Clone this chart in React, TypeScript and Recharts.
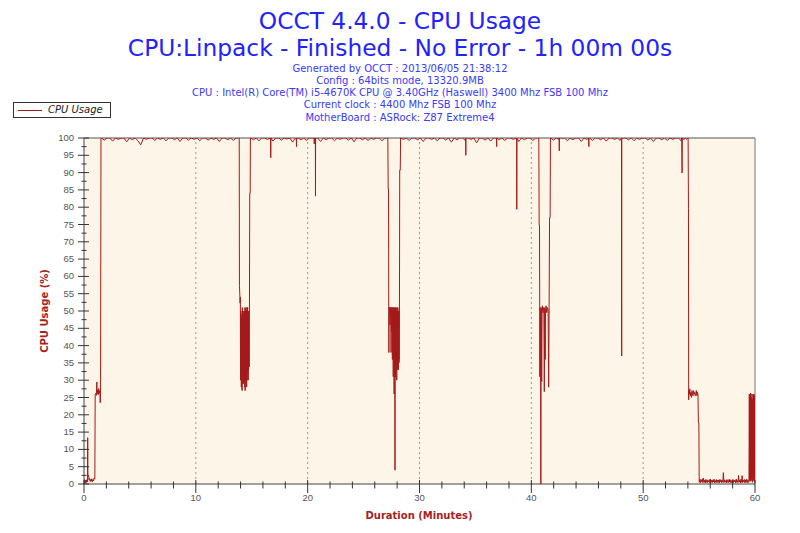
import { CartesianGrid, Line, LineChart, ReferenceLine, XAxis, YAxis } from "recharts";

type Sample = [number, number];
type Run = { from: number; to: number; values: number[] };

const titleLines = ["OCCT 4.4.0 - CPU Usage", "CPU:Linpack - Finished - No Error - 1h 00m 00s"];
const infoLines = [
  "Generated by OCCT : 2013/06/05 21:38:12",
  "Config : 64bits mode, 13320.9MB",
  "CPU : Intel(R) Core(TM) i5-4670K CPU @ 3.40GHz (Haswell) 3400 Mhz FSB 100 Mhz",
  "Current clock : 4400 Mhz FSB 100 Mhz",
  "MotherBoard : ASRock: Z87 Extreme4",
];
const seriesName = "CPU Usage";

const minuteTicks = [
  0, 2, 4, 6, 8, 10, 12, 14, 16, 18, 20, 22, 24, 26, 28, 30, 32, 34, 36, 38, 40, 42, 44, 46, 48, 50,
  52, 54, 56, 58, 60,
];
const minuteGrid = [10, 20, 30, 40, 50];
const usageTicks = [
  0, 2.5, 5, 7.5, 10, 12.5, 15, 17.5, 20, 22.5, 25, 27.5, 30, 32.5, 35, 37.5, 40, 42.5, 45, 47.5, 50,
  52.5, 55, 57.5, 60, 62.5, 65, 67.5, 70, 72.5, 75, 77.5, 80, 82.5, 85, 87.5, 90, 92.5, 95, 97.5, 100,
];

// idle start, then the first short 25% phase before Linpack kicks in
const warmup: Sample[] = [
  [0, 0.8], [0.04, 1.3], [0.08, 0.4], [0.12, 1.1], [0.16, 0.3], [0.2, 1.2], [0.24, 0.5], [0.28, 1.0],
  [0.31, 0.6], [0.33, 13.4], [0.35, 2.8], [0.4, 2.6], [0.45, 1.2], [0.5, 1.6], [0.55, 0.7], [0.6, 1.3],
  [0.65, 0.8], [0.7, 1.5], [0.75, 0.6], [0.8, 1.2], [0.85, 0.9], [0.9, 1.7], [0.97, 1.4], [1.0, 25.8],
  [1.05, 26.2], [1.1, 25.6], [1.15, 29.5], [1.17, 26], [1.22, 27.2], [1.27, 25.8], [1.32, 27.6],
  [1.37, 26.2], [1.42, 27], [1.45, 23.5], [1.48, 26.5], [1.52, 100],
];

// full-load stretches (values spread evenly between from and to)
const loadA: Run = {
  from: 1.56,
  to: 13.86,
  values: [
    100, 99.4, 100, 100, 99.1, 100, 99.6, 100, 100, 98.9, 100, 99.5, 100, 99.2, 98, 100, 99.6, 100, 100,
    99.3, 100, 99.6, 100, 99.2, 100, 100, 99.5, 100, 99, 100, 100, 99.4, 100, 99.6, 100, 99.2, 100, 100,
    99.4, 100, 99.6, 100, 99, 100, 100, 99.5, 100, 99.3, 100, 100,
  ],
};
const loadB: Run = {
  from: 14.9,
  to: 27.15,
  values: [
    100, 99.5, 100, 99.2, 100, 100, 99.6, 100, 99.1, 100, 100, 99.4, 100, 99.7, 100, 98.8, 100, 100,
    99.5, 100, 99.3, 100, 100, 99.6, 100, 99, 100, 99.5, 100, 100, 99.2, 100, 99.6, 100, 100, 99.4, 100,
    98.9, 100, 100, 99.5, 100, 99.3, 100, 99.6, 100, 100, 99.2, 100, 100,
  ],
};
const loadC: Run = {
  from: 28.32,
  to: 40.64,
  values: [
    100, 99.6, 100, 99.3, 100, 100, 99.5, 100, 99, 100, 100, 99.6, 100, 99.2, 100, 100, 99.4, 100, 98.8,
    100, 99.5, 100, 100, 99.3, 100, 99.6, 100, 98.6, 100, 100, 99.4, 100, 99.1, 100, 100, 99.5, 100,
    99.3, 100, 100, 99.6, 100, 99, 100, 99.5, 100, 100, 99.3, 100, 100,
  ],
};
const loadD: Run = {
  from: 41.74,
  to: 53.4,
  values: [
    100, 99.4, 100, 99.6, 100, 100, 99.2, 100, 99.5, 100, 100, 99, 100, 99.6, 100, 99.3, 100, 100, 99.5,
    100, 99.1, 100, 100, 99.6, 100, 99.3, 100, 100, 99.5, 100, 99.2, 100, 99.6, 100, 100, 99.4, 100, 99,
    100, 100, 99.5, 100, 99.3, 100, 99.6, 100, 100, 99.2,
  ],
};
const loadE: Run = { from: 53.52, to: 54.02, values: [100, 99.5, 100, 99.6, 100] };

// narrow dips during the full-load stretches
const spikes: Sample[] = [
  [16.69, 100], [16.7, 94.3], [16.71, 100],
  [18.99, 100], [19.0, 97.5], [19.01, 100],
  [20.58, 100], [20.59, 98.3], [20.6, 100],
  [20.69, 100], [20.7, 83.2], [20.71, 100],
  [34.13, 100], [34.14, 95], [34.15, 100],
  [36.89, 100], [36.9, 97.5], [36.91, 100],
  [38.69, 100], [38.7, 79.4], [38.71, 100],
  [42.49, 100], [42.5, 96.3], [42.51, 100],
  [45.13, 100], [45.14, 97.5], [45.15, 100],
  [48.06, 100], [48.07, 61], [48.08, 37], [48.09, 100],
  [53.44, 100], [53.46, 95.7], [53.48, 89.9], [53.5, 100],
];

// first large dip around 14 min
const dip1Edges: Sample[] = [
  [13.88, 100], [13.9, 57.3], [13.93, 55], [13.96, 52.3], [13.98, 54],
  [14.78, 33.8], [14.82, 84], [14.86, 84], [14.88, 100],
];
const dip1Burst: Run = {
  from: 14.0,
  to: 14.75,
  values: [
    30, 50, 31, 49, 28, 48, 30, 47, 27, 51, 29, 50, 35, 50, 30, 49, 29, 47, 32, 50, 31, 50, 28, 51,
    27, 49, 30, 50, 33, 51, 31, 48, 28, 50, 30, 51, 36, 51, 32, 49, 30, 49, 33, 50, 34,
  ],
};

// second dip around 27.5 min
const dip2Edges: Sample[] = [
  [27.17, 100], [27.2, 85.3], [27.23, 85.3], [27.26, 38], [27.28, 51],
  [28.2, 36], [28.23, 90.7], [28.28, 90.7], [28.31, 100],
];
const dip2Burst: Run = {
  from: 27.3,
  to: 28.16,
  values: [
    51, 50, 51, 46, 51, 50, 49, 51, 38, 51, 50, 44, 51, 50, 36, 51, 40, 50, 31, 51, 35, 50, 26, 51, 33,
    50, 4, 51, 31, 50, 35, 51, 34, 50, 30, 51, 33, 50, 36, 51, 34, 50, 33, 50, 35,
  ],
};

// third dip around 41 min
const dip3: Sample[] = [
  [40.67, 100], [40.7, 74.8], [40.73, 74.8], [40.75, 51], [40.76, 31], [40.78, 51], [40.82, 49.5],
  [40.85, 0], [40.88, 51], [40.93, 29.6], [40.96, 50], [40.99, 51.5], [41.03, 49.5], [41.08, 51],
  [41.12, 50], [41.16, 26.7], [41.2, 51], [41.24, 36], [41.27, 50], [41.32, 51.5], [41.38, 49.5],
  [41.44, 51], [41.5, 50.5], [41.55, 28], [41.59, 51], [41.63, 76.9], [41.68, 76.9], [41.71, 100],
];

// test stopped: 25% step, then idle, then a last burst
const stopEdges: Sample[] = [
  [54.05, 79.7], [54.07, 24.3], [54.1, 27],
  [54.94, 17.6], [54.98, 17.6], [55.01, 0.5],
  [60, 16.6],
];
const stepDown: Run = {
  from: 54.12,
  to: 54.9,
  values: [26, 27.5, 25.5, 26.5, 25, 27, 26, 25.5, 27, 26, 26.5, 25.5, 26, 27, 25.5, 26.5, 26],
};
const idleTail: Run = {
  from: 55.03,
  to: 59.42,
  values: [
    0.5, 1.4, 0.3, 1.2, 0.6, 1.5, 0.4, 1.7, 0.5, 1.1, 0.3, 1.3, 0.5, 1.2, 0.4, 1.0, 0.6, 1.3, 0.3, 1.4,
    0.5, 1.1, 0.4, 1.2, 0.6, 1.4, 0.3, 1.0, 0.5, 1.3, 0.4, 1.1, 0.5, 1.2, 0.3, 1.3, 0.6, 1.2, 0.4, 1.1,
    0.5, 3.3, 0.4, 1.2, 0.6, 1.0, 0.3, 1.3, 0.5, 1.1, 0.4, 1.4, 0.6, 1.2, 0.3, 1.0, 0.5, 1.3, 0.4, 1.2,
    0.6, 1.1, 0.3, 1.4, 0.5, 1.0, 0.4, 2.5, 0.6, 1.2, 0.3, 1.3, 0.5, 2.4, 0.4, 1.1, 0.6, 1.3, 0.3, 1.2,
    0.5, 1.4, 0.4, 1.1, 0.5,
  ],
};
const finalBurst: Run = {
  from: 59.46,
  to: 59.98,
  values: [0.5, 26, 1, 25.5, 0.8, 26.3, 2, 25, 1, 26, 0.5, 24.5, 3, 25.8, 1, 26, 0.6, 25.2],
};

const spread = (run: Run): Sample[] =>
  run.values.map((v, i) => [run.from + (i * (run.to - run.from)) / (run.values.length - 1), v]);

const usage = [
  ...warmup,
  ...spread(loadA),
  ...dip1Edges,
  ...spread(dip1Burst),
  ...spread(loadB),
  ...dip2Edges,
  ...spread(dip2Burst),
  ...spread(loadC),
  ...dip3,
  ...spread(loadD),
  ...spread(loadE),
  ...spikes,
  ...stopEdges,
  ...spread(stepDown),
  ...spread(idleTail),
  ...spread(finalBurst),
]
  .sort((a, b) => a[0] - b[0])
  .map(([minute, cpu]) => ({ minute, cpu }));

const LINE = "#a41a1a";
const AXIS_TEXT = "#555";
const tickFont = "'Liberation Sans', Arial, sans-serif";

function MinuteTick({ x, y, payload }: any) {
  const major = payload.value % 10 === 0;
  return (
    <g>
      <line x1={x} x2={x} y1={y - (major ? 4 : 2.5)} y2={y + (major ? 9 : 4.5)} stroke="#333" />
      {major && (
        <text x={x} y={y + 17} textAnchor="middle" fontSize={9.5} fontFamily={tickFont} fill={AXIS_TEXT}>
          {payload.value}
        </text>
      )}
    </g>
  );
}

function UsageTick({ x, y, payload }: any) {
  const major = payload.value % 5 === 0;
  return (
    <g>
      <line x1={x - (major ? 6 : 2.5)} x2={x + (major ? 5 : 2.5)} y1={y} y2={y} stroke="#333" />
      {major && (
        <text x={x - 10} y={y + 3} textAnchor="end" fontSize={9.5} fontFamily={tickFont} fill={AXIS_TEXT}>
          {payload.value}
        </text>
      )}
    </g>
  );
}

export default function App() {
  const sans = "'DejaVu Sans', Verdana, sans-serif";
  return (
    <div style={{ position: "absolute", left: 0, top: 0, width: 800, height: 533, background: "#fff", fontFamily: sans }}>
      {titleLines.map((t, i) => (
        <div
          key={t}
          style={{
            position: "absolute",
            left: 0,
            width: 800,
            top: 8.5 + i * 27,
            textAlign: "center",
            fontSize: 23.3,
            lineHeight: "23px",
            color: "#2222ff",
            whiteSpace: "nowrap",
          }}
        >
          {t}
        </div>
      ))}
      {infoLines.map((t, i) => (
        <div
          key={t}
          style={{
            position: "absolute",
            left: 0,
            width: 800,
            top: 62.5 + i * 12.3,
            textAlign: "center",
            fontSize: 10,
            lineHeight: "12.3px",
            color: "#3a3af8",
            whiteSpace: "nowrap",
          }}
        >
          {t}
        </div>
      ))}

      <div
        style={{
          position: "absolute",
          left: 13,
          top: 102,
          width: 98,
          height: 16,
          boxSizing: "border-box",
          border: "1px solid #333",
          background: "#fff",
        }}
      >
        <div style={{ position: "absolute", left: 4, top: 7, width: 24, height: 1, background: LINE }} />
        <div
          style={{
            position: "absolute",
            left: 34,
            top: 0,
            fontSize: 10,
            lineHeight: "14px",
            fontStyle: "italic",
            color: "#222",
            whiteSpace: "nowrap",
          }}
        >
          {seriesName}
        </div>
      </div>

      <div style={{ position: "absolute", left: 0, top: 0 }}>
        <LineChart width={800} height={533} data={usage} margin={{ top: 138, right: 45, bottom: 19, left: 0 }}>
          <CartesianGrid fill="#fdf6e8" horizontal={false} vertical={false} stroke="none" />
          {minuteGrid.map((m) => (
            <ReferenceLine key={m} x={m} stroke="#9a9890" strokeDasharray="2 3" />
          ))}
          <ReferenceLine y={100} stroke="#555" />
          <ReferenceLine x={60} stroke="#777" />
          <XAxis
            dataKey="minute"
            type="number"
            domain={[0, 60]}
            ticks={minuteTicks}
            interval={0}
            height={30}
            tickSize={0}
            tickMargin={0}
            tickLine={false}
            axisLine={{ stroke: "#444" }}
            tick={MinuteTick}
            allowDataOverflow
          />
          <YAxis
            type="number"
            domain={[0, 100]}
            ticks={usageTicks}
            interval={0}
            width={84}
            tickSize={0}
            tickMargin={0}
            tickLine={false}
            axisLine={{ stroke: "#444" }}
            tick={UsageTick}
            allowDataOverflow
          />
          <Line
            dataKey="cpu"
            type="linear"
            stroke={LINE}
            strokeWidth={1}
            dot={false}
            activeDot={false}
            isAnimationActive={false}
          />
        </LineChart>
      </div>

      <div
        style={{
          position: "absolute",
          left: 0,
          width: 838,
          top: 511,
          textAlign: "center",
          fontSize: 10,
          lineHeight: "10px",
          fontWeight: "bold",
          color: "#a52222",
          whiteSpace: "nowrap",
        }}
      >
        Duration (Minutes)
      </div>
      <div
        style={{
          position: "absolute",
          left: 45,
          top: 311,
          transform: "translate(-50%, -50%) rotate(-90deg)",
          fontSize: 10,
          lineHeight: "10px",
          fontWeight: "bold",
          color: "#a52222",
          whiteSpace: "nowrap",
        }}
      >
        CPU Usage (%)
      </div>
    </div>
  );
}
